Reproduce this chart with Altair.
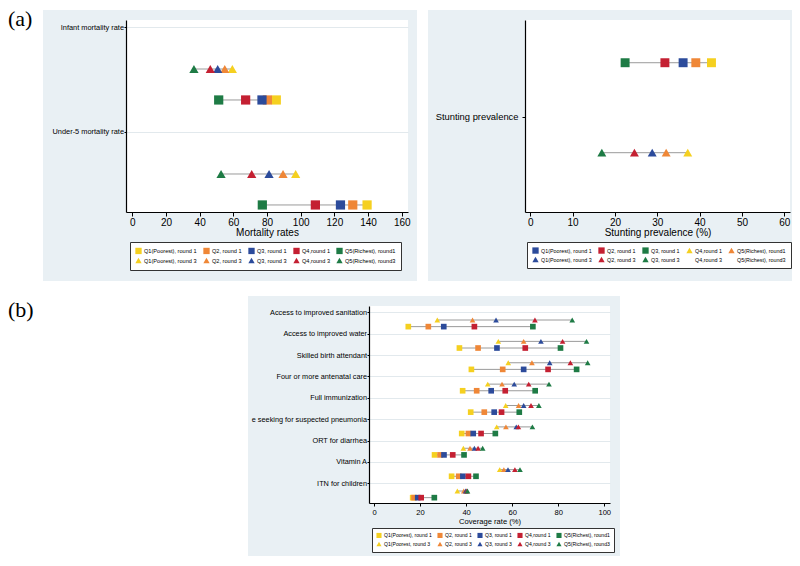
import json
import altair as alt
import pandas as pd

FONT = "Liberation Sans"
BG = "#e9f0f4"
GRID = "#e2e9ed"
LINE = "#9a9a9a"
INK = "black"

yellow, orange, blue, red, green = "#f5d020", "#ef8737", "#2c4b9b", "#c42032", "#1e7b45"
quintile_colors = [yellow, orange, blue, red, green]

# ---------------- (a) left: mortality ----------------
mort_indicators = ["Infant mortality rate", "Under-5 mortality rate"]
imr_r1 = [85.5, 80.2, 77.0, 67.3, 51.3]
imr_r3 = [59.4, 54.9, 50.7, 46.3, 36.6]
u5mr_r1 = [139.4, 130.9, 123.6, 108.7, 77.2]
u5mr_r3 = [97.0, 89.5, 81.2, 70.9, 52.7]
mort_ticks = [0, 20, 40, 60, 80, 100, 120, 140, 160]
mort_labels = ["Q1(Poorest), round 1", "Q2, round 1", "Q3, round 1", "Q4,round 1", "Q5(Richest), round1",
               "Q1(Poorest), round 3", "Q2, round 3", "Q3, round 3", "Q4,round 3", "Q5(Richest), round3"]

# ---------------- (a) right: stunting ----------------
stunt_indicators = ["Stunting prevalence"]
stunt_r1 = [42.8, 39.1, 36.1, 31.8, 22.4]
stunt_r3 = [37.2, 32.1, 28.8, 24.6, 16.9]
stunt_ticks = [0, 10, 20, 30, 40, 50, 60]
stunt_series = ["S1r1", "S2r1", "S3r1", "S4r1", "S5r1", "S1r3", "S2r3", "S3r3", "S4r3", "S5r3"]
stunt_legend_labels = mort_labels
stunt_legend_colors = [blue, red, green, yellow, orange, blue, red, green, "transparent", "transparent"]
stunt_legend_shapes = ["square", "square", "square", "triangle-up", "triangle-up",
                       "triangle-up", "triangle-up", "triangle-up", "square", "square"]

# ---------------- (b) coverage ----------------
cov_indicators = ["Access to improved sanitation", "Access to improved water", "Skilled birth attendant",
                  "Four or more antenatal care", "Full immunization", "e seeking for suspected pneumonia",
                  "ORT for diarrhea", "Vitamin A", "ITN for children"]
sanitation_r1 = [14.9, 23.6, 30.3, 43.6, 69.0]
sanitation_r3 = [27.5, 42.8, 53.0, 69.9, 86.1]
water_r1 = [37.1, 45.2, 53.4, 65.7, 81.0]
water_r3 = [54.0, 65.0, 72.5, 81.9, 92.3]
sba_r1 = [42.3, 55.9, 65.0, 75.6, 88.0]
sba_r3 = [58.3, 68.6, 76.3, 85.3, 92.8]
anc_r1 = [38.5, 44.6, 50.9, 57.0, 70.0]
anc_r3 = [49.4, 55.6, 60.9, 67.2, 76.0]
immun_r1 = [42.0, 47.9, 52.2, 55.4, 63.1]
immun_r3 = [57.2, 62.8, 65.0, 68.2, 71.6]
pneu_r1 = [38.1, 41.0, 43.1, 46.5, 52.7]
pneu_r3 = [53.3, 57.3, 61.8, 62.7, 68.8]
ort_r1 = [26.3, 28.7, 30.4, 34.2, 39.1]
ort_r3 = [38.8, 41.7, 43.6, 45.2, 47.2]
vita_r1 = [33.7, 36.8, 38.6, 41.0, 44.3]
vita_r3 = [54.6, 56.4, 58.2, 61.2, 63.4]
itn_r1 = [16.8, 17.4, 19.0, 20.5, 26.2]
itn_r3 = [36.2, 39.0, 39.8, 40.3, 40.6]
cov_ticks = [0, 20, 40, 60, 80, 100]
cov_labels = ["Q1(Poorest), round 1", "Q2, round 1", "Q3, round 1", "Q4,round 1", "Q5(Richest), round1",
              "Q1(Poorest, round 3", "Q2, round 3", "Q3, round 3", "Q4,round 3", "Q5(Richest), round3"]


def tidy(groups, labels, offsets):
    rows = []
    for g, pair in enumerate(groups):
        for r, vals in enumerate(pair):
            for q, v in enumerate(vals):
                rows.append(dict(value=v, ypos=g + offsets[r], row=f"{g}-{r}",
                                 series=labels[r * 5 + q]))
    return pd.DataFrame(rows)


ONE = alt.Data(values=[{"k": 1}])


def deco(x1, x2, y1, y2, color, opacity=1.0):
    return alt.Chart(ONE).mark_rect(color=color, opacity=opacity).encode(
        x=alt.value(x1), x2=alt.value(x2), y=alt.value(y1), y2=alt.value(y2))


def label_text(txt, x, y):
    return alt.Chart(ONE).mark_text(text=txt, font="Liberation Serif", fontSize=22,
                                    align="left", baseline="top", color="black").encode(
        x=alt.value(x), y=alt.value(y))


def legend(x, y, fs, ss, pad, cpad):
    return alt.Legend(orient="none", legendX=x, legendY=y, columns=5, direction="horizontal",
                      title=None, symbolSize=ss, labelFontSize=fs, labelFont=FONT, labelColor=INK,
                      strokeColor="#333333", fillColor="white", padding=pad,
                      columnPadding=cpad, rowPadding=2, labelOffset=2, labelLimit=200,
                      symbolStrokeWidth=0)


def xaxis(ticks, title, fs, tsize, lpad, ty):
    return alt.Axis(values=ticks, title=title, grid=False, domainColor="black", domainWidth=1.2,
                    tickColor="black", tickSize=tsize, labelPadding=lpad, labelFontSize=fs,
                    titleFontSize=fs, titleFontWeight="normal", labelColor=INK, titleColor=INK,
                    titleY=ty, titleBaseline="alphabetic", labelFont=FONT, titleFont=FONT, zindex=1)


def yaxis(names, fs, grid, tsize, lpad):
    expr = json.dumps(names) + "[round(datum.value)]"
    return alt.Axis(values=list(range(len(names))), labelExpr=expr, title=None, grid=grid,
                    gridColor=GRID, gridWidth=1, domainColor="black", domainWidth=1.2,
                    tickColor="black", tickSize=tsize, labelPadding=lpad, labelFontSize=fs,
                    labelColor=INK, labelFont=FONT, zindex=1)


# ---------------- panel (a) left ----------------
W1, H1 = 282, 192
mort_df = tidy([(imr_r1, imr_r3), (u5mr_r1, u5mr_r3)], mort_labels, [0.695, 0.40])
x1 = alt.X("value:Q", scale=alt.Scale(domain=[-3.74, 163.7], nice=False, zero=False),
           axis=xaxis(mort_ticks, "Mortality rates", 10, 4, 1.5, 23))
y1 = alt.Y("ypos:Q", scale=alt.Scale(domain=[-0.0667, 1.762], nice=False, zero=False, reverse=True),
           axis=yaxis(mort_indicators, 7.4, True, 2, 0.5))
lg1 = legend(4, 222, 5.6, 40, 5, 6)
mort_lines = alt.Chart(mort_df).mark_line(color=LINE, strokeWidth=1).encode(x=x1, y=y1, detail="row:N")
mort_pts = alt.Chart(mort_df).mark_point(filled=True, size=85, opacity=1).encode(
    x=x1, y=y1,
    color=alt.Color("series:N", scale=alt.Scale(domain=mort_labels, range=quintile_colors * 2), legend=lg1),
    shape=alt.Shape("series:N", scale=alt.Scale(domain=mort_labels, range=["square"] * 5 + ["triangle-up"] * 5), legend=lg1),
)
panel_a1 = alt.layer(
    deco(-83, W1 + 9, -10, 261, BG),
    deco(-83, W1 + 9, -12, 0, BG, 0),
    deco(0, W1, 0, H1, "white"),
    label_text("(a)", -118, -11),
    mort_lines, mort_pts,
).properties(width=W1, height=H1)

# ---------------- panel (a) right ----------------
W2, H2 = 265, 192
stunt_df = tidy([(stunt_r1, stunt_r3)], stunt_series, [-0.514, 0.343])
x2 = alt.X("value:Q", scale=alt.Scale(domain=[-1.25, 61.35], nice=False, zero=False),
           axis=xaxis(stunt_ticks, "Stunting prevalence (%)", 10, 4, 1.5, 23))
y2 = alt.Y("ypos:Q", scale=alt.Scale(domain=[-0.921, 0.908], nice=False, zero=False, reverse=True),
           axis=yaxis(stunt_indicators, 9.4, False, 3, 4))
lg2 = legend(2, 222, 5.4, 40, 5, 6)
stunt_lines = alt.Chart(stunt_df).mark_line(color=LINE, strokeWidth=1).encode(x=x2, y=y2, detail="row:N")
stunt_pts = alt.Chart(stunt_df).mark_point(filled=True, size=80, opacity=1).encode(
    x=x2, y=y2,
    color=alt.Color("series:N", scale=alt.Scale(domain=stunt_series, range=quintile_colors * 2), legend=None),
    shape=alt.Shape("series:N", scale=alt.Scale(domain=stunt_series, range=["square"] * 5 + ["triangle-up"] * 5), legend=None),
)
stunt_key = pd.DataFrame({"lab": stunt_legend_labels})
stunt_legend = alt.Chart(stunt_key).mark_point(filled=True, size=40, opacity=1).encode(
    x=alt.value(0), y=alt.value(0),
    color=alt.Color("lab:N", scale=alt.Scale(domain=stunt_legend_labels, range=stunt_legend_colors), legend=lg2),
    shape=alt.Shape("lab:N", scale=alt.Scale(domain=stunt_legend_labels, range=stunt_legend_shapes), legend=lg2),
).transform_filter("false")
panel_a2 = alt.layer(
    deco(-97, W2 + 2, -10, 261, BG),
    deco(-97, W2 + 2, -12, 0, BG, 0),
    deco(0, W2, 0, H2, "white"),
    stunt_lines, stunt_pts, stunt_legend,
).resolve_scale(color="independent", shape="independent").properties(width=W2, height=H2)

# ---------------- panel (b) ----------------
W3, H3 = 241, 197
cov_groups = [(sanitation_r1, sanitation_r3), (water_r1, water_r3), (sba_r1, sba_r3),
              (anc_r1, anc_r3), (immun_r1, immun_r3), (pneu_r1, pneu_r3),
              (ort_r1, ort_r3), (vita_r1, vita_r3), (itn_r1, itn_r3)]
cov_df = tidy(cov_groups, cov_labels, [0.67, 0.36])
x3 = alt.X("value:Q", scale=alt.Scale(domain=[-2.17, 102.5], nice=False, zero=False),
           axis=xaxis(cov_ticks, "Coverage rate (%)", 7.6, 3, 2.5, 20))
y3 = alt.Y("ypos:Q", scale=alt.Scale(domain=[-0.295, 8.92], nice=False, zero=False, reverse=True),
           axis=yaxis(cov_indicators, 7.3, True, 2, 0.5))
lg3 = legend(3, 222, 5.1, 26, 4, 5)
cov_lines = alt.Chart(cov_df).mark_line(color=LINE, strokeWidth=1).encode(x=x3, y=y3, detail="row:N")
cov_pts = alt.Chart(cov_df).mark_point(filled=True, size=32, opacity=1).encode(
    x=x3, y=y3,
    color=alt.Color("series:N", scale=alt.Scale(domain=cov_labels, range=quintile_colors * 2), legend=lg3),
    shape=alt.Shape("series:N", scale=alt.Scale(domain=cov_labels, range=["square"] * 5 + ["triangle-up"] * 5), legend=lg3),
)
panel_b = alt.layer(
    deco(-121, W3 + 10, -10, 250, BG),
    deco(0, W3, 0, H3, "white"),
    cov_lines, cov_pts,
).properties(width=W3, height=H3)

spacer_b = label_text("(b)", -118, -6).properties(width=100, height=H3)

row_a = alt.hconcat(panel_a1, panel_a2, spacing=11).resolve_scale(color="independent", shape="independent")
row_b = alt.hconcat(spacer_b, panel_b, spacing=22).resolve_scale(color="independent", shape="independent")
chart = alt.vconcat(row_a, row_b, spacing=15).resolve_scale(
    color="independent", shape="independent"
).properties(
    padding={"left": 0, "top": 0, "right": 0, "bottom": 0}
).configure(font=FONT).configure_view(stroke=None)

chart.save("out.html", embed_options={"renderer": "svg", "actions": False})
